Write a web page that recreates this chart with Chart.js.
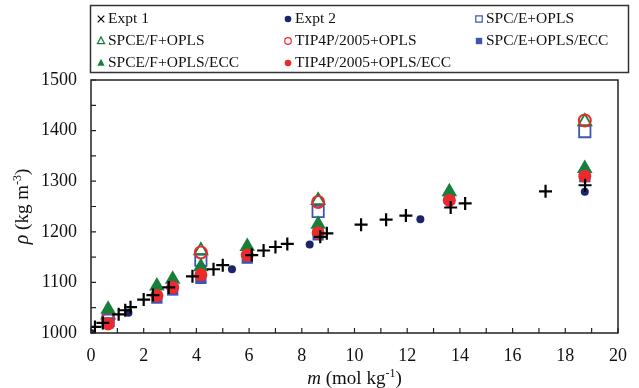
<!DOCTYPE html>
<html>
<head>
<meta charset="utf-8">
<script src="https://cdn.jsdelivr.net/npm/chart.js@4/dist/chart.umd.min.js"></script>
<style>
html,body{margin:0;padding:0;background:#fff;}
#wrap{width:639px;height:388px;}
</style>
</head>
<body>
<div id="wrap"><canvas id="c" width="639" height="388"></canvas></div>
<script>
// ---- data ----
const expt1M   = [0.15,0.45,1.05,1.3,1.5,2.0,2.35,2.95,3.85,4.65,5.0,6.1,6.55,7.0,7.45,8.7,8.95,10.25,11.2,11.95,13.65,14.2,17.25,18.75];
const expt1Rho = [1012,1020,1037,1045,1051,1066,1075,1090,1112,1126,1134,1154,1163,1170,1176,1190,1197,1214,1224,1232,1248,1256,1280,1292];
const expt2M   = [0,1.42,5.35,8.3,12.5,18.74];
const expt2Rho = [1000,1040,1126,1175,1225,1279];
const simM     = [0.65,2.5,3.1,4.17,5.93,8.62,13.6,18.74];
const openM    = [0.65,4.17,8.62,18.74];
const spceOpls      = [1025,1144,1240,1398];
const spcefOpls     = [1036,1163,1262,1418];
const tip4pOpls     = [1028,1159,1259,1420];
const spceOplsEcc   = [1020,1069,1085,1108,1148,1194,1266,1309];
const spcefOplsEcc  = [1047,1093,1106,1131,1171,1215,1279,1325];
const tip4pOplsEcc  = [1018,1074,1090,1115,1154,1198,1262,1310];
const xTicks = [0,2,4,6,8,10,12,14,16,18,20];
const yTicks = [1000,1100,1200,1300,1400,1500];
const seriesNames = ['Expt 1','Expt 2','SPC/E+OPLS','SPCE/F+OPLS','TIP4P/2005+OPLS','SPC/E+OPLS/ECC','SPCE/F+OPLS/ECC','TIP4P/2005+OPLS/ECC'];

const pts = (xs, ys) => xs.map((x, i) => ({x: x, y: ys[i]}));

const BLUE = '#3f55b4', GREEN = '#16803a', RED = '#ec2a2d', NAVY = '#1b2468';
const SERIF = '"Liberation Serif","Times New Roman",serif';

const datasets = [
  {label: seriesNames[0], data: pts(expt1M, expt1Rho), pointStyle: 'cross', pointRadius: 6.5, borderColor: '#000', backgroundColor: '#000', pointBorderWidth: 2.2, order: 0, legendStyle: 'crossRot'},
  {label: seriesNames[1], data: pts(expt2M, expt2Rho), pointStyle: 'circle', pointRadius: 4, borderColor: NAVY, backgroundColor: NAVY, pointBorderWidth: 0, order: 1},
  {label: seriesNames[2], data: pts(openM, spceOpls), pointStyle: 'rect', pointRadius: 8, borderColor: BLUE, backgroundColor: 'rgba(0,0,0,0)', pointBorderWidth: 1.8, order: 7},
  {label: seriesNames[3], data: pts(openM, spcefOpls), pointStyle: 'triangle', pointRadius: 7.5, borderColor: GREEN, backgroundColor: 'rgba(0,0,0,0)', pointBorderWidth: 1.8, order: 6},
  {label: seriesNames[4], data: pts(openM, tip4pOpls), pointStyle: 'circle', pointRadius: 6, borderColor: RED, backgroundColor: 'rgba(0,0,0,0)', pointBorderWidth: 2, order: 5},
  {label: seriesNames[5], data: pts(simM, spceOplsEcc), pointStyle: 'rect', pointRadius: 8, borderColor: BLUE, backgroundColor: BLUE, pointBorderWidth: 0, order: 4},
  {label: seriesNames[6], data: pts(simM, spcefOplsEcc), pointStyle: 'triangle', pointRadius: 9, borderColor: GREEN, backgroundColor: GREEN, pointBorderWidth: 0, order: 3},
  {label: seriesNames[7], data: pts(simM, tip4pOplsEcc), pointStyle: 'circle', pointRadius: 6.5, borderColor: RED, backgroundColor: RED, pointBorderWidth: 0, order: 2}
];
datasets.forEach(d => { d.showLine = false; d.pointHoverRadius = d.pointRadius; });

function drawMarker(ctx, style, x, y, r, fill, stroke, lw) {
  ctx.save();
  ctx.beginPath();
  ctx.lineWidth = lw;
  ctx.strokeStyle = stroke;
  ctx.fillStyle = fill;
  if (style === 'crossRot') {
    ctx.moveTo(x - r, y - r); ctx.lineTo(x + r, y + r);
    ctx.moveTo(x + r, y - r); ctx.lineTo(x - r, y + r);
    ctx.stroke();
  } else if (style === 'circle') {
    ctx.arc(x, y, r, 0, Math.PI * 2);
    if (fill !== 'rgba(0,0,0,0)') ctx.fill();
    if (lw > 0) ctx.stroke();
  } else if (style === 'rect') {
    ctx.rect(x - r, y - r, 2 * r, 2 * r);
    if (fill !== 'rgba(0,0,0,0)') ctx.fill();
    if (lw > 0) ctx.stroke();
  } else if (style === 'triangle') {
    ctx.moveTo(x, y - r * 1.15);
    ctx.lineTo(x + r, y + r * 0.75);
    ctx.lineTo(x - r, y + r * 0.75);
    ctx.closePath();
    if (fill !== 'rgba(0,0,0,0)') ctx.fill();
    if (lw > 0) ctx.stroke();
  }
  ctx.restore();
}

function drawRich(ctx, parts, cx, cy) {
  let w = 0;
  parts.forEach(p => { ctx.font = p[1]; w += ctx.measureText(p[0]).width; });
  let x = cx - w / 2;
  ctx.textBaseline = 'alphabetic';
  ctx.textAlign = 'left';
  parts.forEach(p => { ctx.font = p[1]; ctx.fillText(p[0], x, cy + p[2]); x += ctx.measureText(p[0]).width; });
}

const decor = {
  id: 'decor',
  afterDatasetsDraw(chart) {
    const ctx = chart.ctx, a = chart.chartArea;
    const xs = chart.scales.x, ys = chart.scales.y;
    ctx.save();
    ctx.strokeStyle = '#222';
    ctx.lineWidth = 1.5;
    ctx.strokeRect(a.left, a.top, a.right - a.left, a.bottom - a.top);
    ctx.lineWidth = 1.2;
    ctx.beginPath();
    for (let v = 0; v <= 20; v += 1) {
      const px = xs.getPixelForValue(v);
      ctx.moveTo(px, a.bottom); ctx.lineTo(px, a.bottom - 5);
    }
    for (let v = 1000; v <= 1500; v += 50) {
      const py = ys.getPixelForValue(v);
      ctx.moveTo(a.left, py); ctx.lineTo(a.left + 5, py);
    }
    ctx.stroke();
    ctx.restore();
  },
  afterDraw(chart) {
    const ctx = chart.ctx, a = chart.chartArea;
    ctx.save();
    ctx.fillStyle = '#111';
    drawRich(ctx, [
      ['m', 'italic 19px ' + SERIF, 0],
      [' (mol kg', '19px ' + SERIF, 0],
      ['-1', '12px ' + SERIF, -7],
      [')', '19px ' + SERIF, 0]
    ], (a.left + a.right) / 2, 384);
    ctx.translate(28, (a.top + a.bottom) / 2);
    ctx.rotate(-Math.PI / 2);
    drawRich(ctx, [
      ['\u03c1', 'italic 20px ' + SERIF, 0],
      [' (kg m', '19px ' + SERIF, 0],
      ['-3', '12px ' + SERIF, -7],
      [')', '19px ' + SERIF, 0]
    ], 0, 0);
    ctx.restore();

    ctx.save();
    ctx.strokeStyle = '#333';
    ctx.lineWidth = 1.5;
    ctx.strokeRect(90.5, 5.5, 538, 67);
    const colX = [101, 288, 479];
    const rowY = [18, 40, 62];
    ctx.font = '15.5px ' + SERIF;
    ctx.textBaseline = 'middle';
    ctx.textAlign = 'left';
    chart.data.datasets.forEach((d, i) => {
      const cx = colX[i % 3], cy = rowY[Math.floor(i / 3)];
      const st = d.legendStyle || d.pointStyle;
      let r = 3.3;
      if (st === 'triangle') r = 3.6;
      if (st === 'rect') r = 3.2;
      const lw = d.pointBorderWidth > 0 ? 1.2 : 0;
      drawMarker(ctx, st, cx, cy + 1, r, d.backgroundColor, d.borderColor, st === 'crossRot' ? 1.2 : lw);
      ctx.fillStyle = '#111';
      ctx.fillText(d.label, cx + 7, cy + 1);
    });
    ctx.restore();
  }
};

new Chart(document.getElementById('c'), {
  type: 'scatter',
  data: {datasets: datasets},
  plugins: [decor],
  options: {
    responsive: false,
    devicePixelRatio: 1,
    animation: false,
    layout: {padding: {top: 80, right: 9, left: 0, bottom: 0}},
    plugins: {legend: {display: false}, tooltip: {enabled: false}},
    scales: {
      x: {
        type: 'linear', min: 0, max: 20,
        afterBuildTicks: s => { s.ticks = xTicks.map(v => ({value: v})); },
        afterFit: s => { s.height = 55; },
        grid: {display: false, drawTicks: false},
        border: {display: false},
        ticks: {padding: 12, color: '#111', font: {family: SERIF, size: 18}, callback: v => String(v)}
      },
      y: {
        type: 'linear', min: 1000, max: 1500,
        afterBuildTicks: s => { s.ticks = yTicks.map(v => ({value: v})); },
        afterFit: s => { s.width = 91; },
        grid: {display: false, drawTicks: false},
        border: {display: false},
        ticks: {padding: 14, color: '#111', font: {family: SERIF, size: 18}, callback: v => String(v)}
      }
    }
  }
});
</script>
</body>
</html>
